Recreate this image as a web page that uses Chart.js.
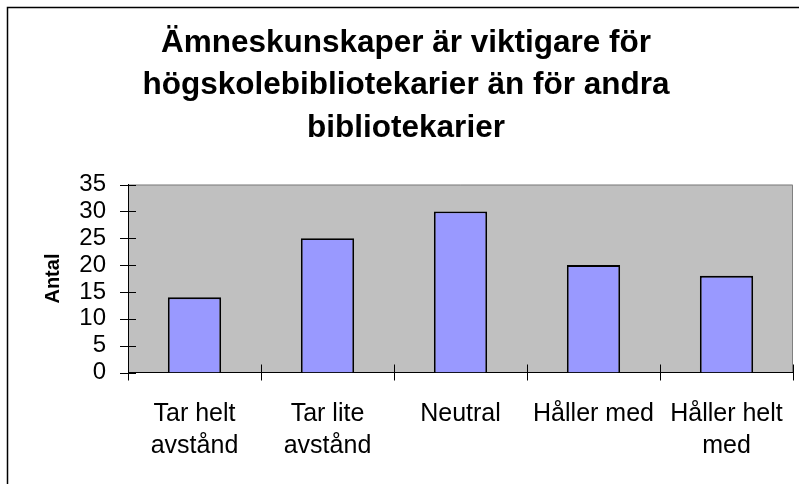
<!DOCTYPE html>
<html>
<head>
<meta charset="utf-8">
<script src="https://cdn.jsdelivr.net/npm/chart.js@4"></script>
<style>
  body { margin: 0; background: #fff; }
  canvas { display: block; }
</style>
</head>
<body>
<canvas id="chart" width="799" height="484"></canvas>
<script>
const categories = [['Tar helt', 'avstånd'], ['Tar lite', 'avstånd'], 'Neutral', 'Håller med', ['Håller helt', 'med']];
const counts = [14, 25, 30, 20, 18];
const titleLines = ['Ämneskunskaper är viktigare för', 'högskolebibliotekarier än för andra', 'bibliotekarier'];
const yAxisTitle = 'Antal';

const FONT = '"Liberation Sans", Arial, sans-serif';

// grey plot background, grey top/right edge and the outer frame
const plotFrame = {
    id: 'plotFrame',
    beforeDraw(chart) {
        const { ctx, chartArea: a } = chart;
        ctx.save();
        ctx.fillStyle = '#C0C0C0';
        ctx.fillRect(a.left, a.top, a.right - a.left, a.bottom - a.top);
        ctx.strokeStyle = '#808080';
        ctx.lineWidth = 1;
        ctx.beginPath();
        ctx.moveTo(a.left, a.top + 0.5);
        ctx.lineTo(a.right - 0.5, a.top + 0.5);
        ctx.lineTo(a.right - 0.5, a.bottom);
        ctx.stroke();
        // outer chart frame (only left and top fit in the picture)
        ctx.strokeStyle = '#000';
        ctx.lineWidth = 1.5;
        ctx.beginPath();
        ctx.moveTo(7.5, chart.height);
        ctx.lineTo(7.5, 7.5);
        ctx.lineTo(chart.width, 7.5);
        ctx.stroke();
        ctx.restore();
    }
};

// Excel style tick marks that cross the axis
const crossTicks = {
    id: 'crossTicks',
    afterDraw(chart) {
        const { ctx, chartArea: a } = chart;
        const x = chart.scales.x;
        const y = chart.scales.y;
        ctx.save();
        ctx.strokeStyle = '#000';
        ctx.lineWidth = 1;
        ctx.beginPath();
        y.ticks.forEach((t, i) => {
            const py = Math.round(y.getPixelForTick(i)) + 0.5;
            ctx.moveTo(a.left - 8, py);
            ctx.lineTo(a.left + 8, py);
        });
        const step = x.getPixelForValue(1) - x.getPixelForValue(0);
        for (let i = 0; i <= categories.length; i++) {
            const px = Math.round(x.getPixelForValue(i) - step / 2) + 0.5;
            ctx.moveTo(px, a.bottom - 8);
            ctx.lineTo(px, a.bottom + 8);
        }
        ctx.stroke();
        ctx.restore();
    }
};

new Chart(document.getElementById('chart'), {
    type: 'bar',
    data: {
        labels: categories,
        datasets: [{
            data: counts,
            backgroundColor: '#9999FF',
            borderColor: '#000',
            borderWidth: 1.8,
            barPercentage: 0.4,
            categoryPercentage: 1
        }]
    },
    options: {
        responsive: false,
        animation: false,
        layout: { padding: { top: 0, left: 19, right: 6, bottom: 0 } },
        plugins: {
            legend: { display: false },
            tooltip: { enabled: false },
            title: {
                display: true,
                text: titleLines,
                color: '#000',
                font: { family: FONT, size: 31.5, weight: 'bold', lineHeight: 1.35 },
                padding: { top: 22, bottom: 35 }
            }
        },
        scales: {
            x: {
                grid: { display: false, drawTicks: false },
                border: { display: true, color: '#000', width: 1 },
                ticks: {
                    color: '#000',
                    font: { family: FONT, size: 25, lineHeight: 1.28 },
                    padding: 26,
                    maxRotation: 0,
                    autoSkip: false
                },
                afterFit(scale) {
                    scale.height = 111.5;
                    scale.paddingLeft = 0;
                    scale.paddingRight = 0;
                }
            },
            y: {
                min: 0,
                max: 35,
                grid: { display: false, drawTicks: false },
                border: { display: true, color: '#000', width: 1 },
                ticks: {
                    stepSize: 5,
                    autoSkip: false,
                    color: '#000',
                    font: { family: FONT, size: 24 },
                    padding: 22
                },
                title: {
                    display: true,
                    text: yAxisTitle,
                    color: '#000',
                    font: { family: FONT, size: 20, weight: 'bold' },
                    padding: { top: 22, bottom: 0 }
                },
                afterFit(scale) {
                    scale.width = 109;
                    scale.paddingTop = 0;
                    scale.paddingBottom = 0;
                }
            }
        }
    },
    plugins: [plotFrame, crossTicks]
});
</script>
</body>
</html>
